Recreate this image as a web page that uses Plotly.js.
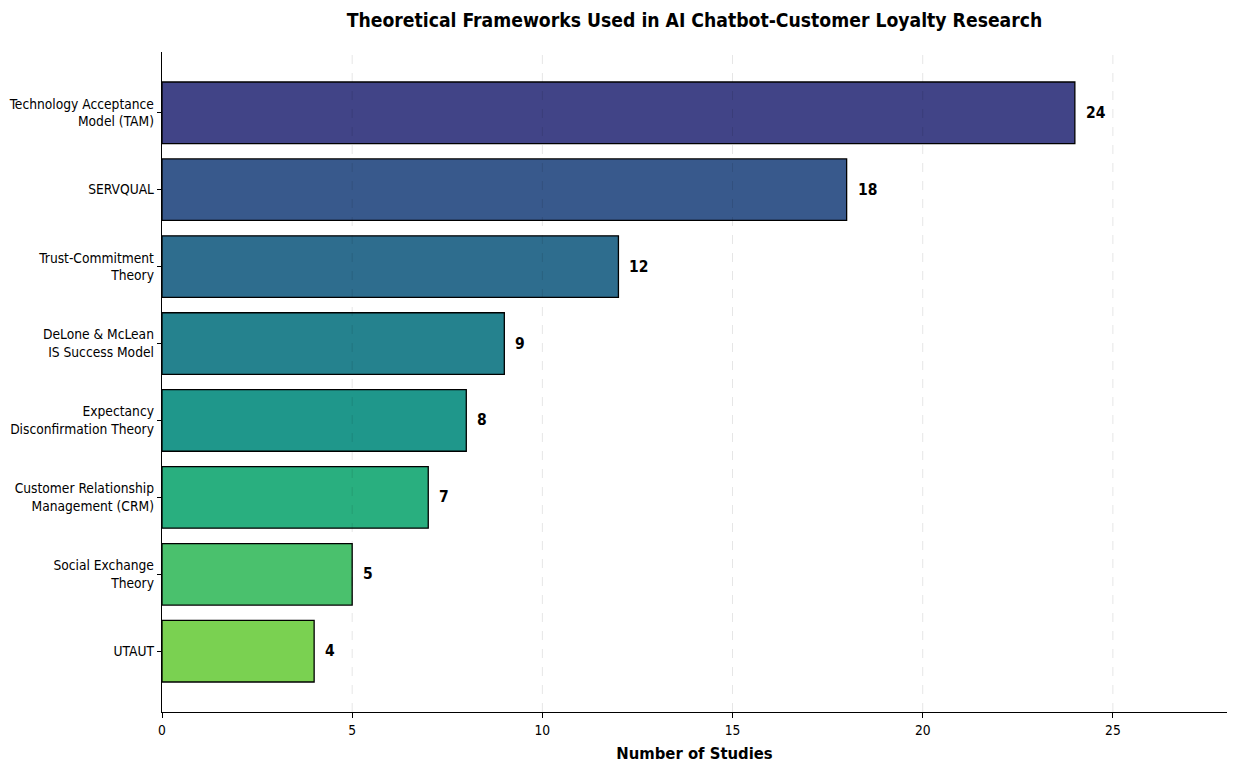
<!DOCTYPE html>
<html>
<head>
<meta charset="utf-8">
<script src="https://cdn.plot.ly/plotly-3.0.1.min.js"></script>
<style>
  html, body { margin: 0; padding: 0; background: #fff; }
  #chart { width: 1236px; height: 775px; }
</style>
</head>
<body>
<div id="chart"></div>
<script>
(function () {
  "use strict";

  // Frameworks, top to bottom, and how many studies used each.
  const frameworks = [
    "Technology Acceptance<br>Model (TAM)",
    "SERVQUAL",
    "Trust-Commitment<br>Theory",
    "DeLone &amp; McLean<br>IS Success Model",
    "Expectancy<br>Disconfirmation Theory",
    "Customer Relationship<br>Management (CRM)",
    "Social Exchange<br>Theory",
    "UTAUT",
  ];
  const studies = [24, 18, 12, 9, 8, 7, 5, 4];

  // Viridis samples from 0.2 to 0.8, one per bar.
  const barColors = [
    "#414487", "#38598c", "#2e6d8e", "#25828e",
    "#1f978b", "#29af7f", "#4ac16d", "#7ad151",
  ];

  const xTicks = [0, 5, 10, 15, 20, 25];
  const gridTicks = [5, 10, 15, 20, 25];

  const FONT = "'DejaVu Sans Condensed', 'DejaVu Sans', sans-serif";
  const STRETCH = "condensed";

  function font(size, bold) {
    const f = { family: FONT, size: size, color: "#000", stretch: STRETCH };
    if (bold) {
      f.weight = "bold";
    }
    return f;
  }

  const trace = {
    type: "bar",
    orientation: "h",
    x: studies,
    y: frameworks,
    width: 0.8,
    marker: { color: barColors, line: { color: "#000", width: 1.3 } },
    hoverinfo: "x+y",
  };

  // Value labels just past the end of each bar.
  const labels = studies.map(function (n, i) {
    return {
      x: n,
      y: frameworks[i],
      xref: "x",
      yref: "y",
      text: String(n),
      showarrow: false,
      xanchor: "left",
      yanchor: "middle",
      xshift: 9,
      font: font(15.5, true),
    };
  });

  // matplotlib draws its grid over the bars, so use shapes on top.
  const grid = gridTicks.map(function (t) {
    return {
      type: "line",
      xref: "x",
      yref: "paper",
      x0: t, x1: t, y0: 0, y1: 1,
      layer: "above",
      line: { color: "rgba(0,0,0,0.10)", width: 1, dash: "dash" },
    };
  });

  const layout = {
    width: 1236,
    height: 775,
    paper_bgcolor: "#fff",
    plot_bgcolor: "#fff",
    margin: { l: 162, r: 9, t: 52, b: 63 },
    font: font(13.7, false),
    showlegend: false,
    title: {
      text: "Theoretical Frameworks Used in AI Chatbot-Customer Loyalty Research",
      font: font(19.2, true),
      x: 0.5,
      xref: "paper",
      xanchor: "center",
      y: 0.974,
      yanchor: "middle",
    },
    xaxis: {
      range: [0, 28],
      tickvals: xTicks,
      ticktext: xTicks.map(String),
      showgrid: false,
      zeroline: false,
      showline: true,
      linecolor: "#000",
      linewidth: 1.3,
      ticks: "outside",
      ticklen: 5,
      tickcolor: "#000",
      tickfont: font(13.7, false),
      title: {
        text: "Number of Studies",
        font: font(16.5, true),
        standoff: 10,
      },
    },
    yaxis: {
      type: "category",
      range: [7.79, -0.79],
      showgrid: false,
      zeroline: false,
      showline: true,
      linecolor: "#000",
      linewidth: 1.3,
      ticks: "outside",
      ticklen: 4,
      tickcolor: "#000",
      tickfont: font(13.7, false),
    },
    annotations: labels,
    shapes: grid,
  };

  Plotly.newPlot("chart", [trace], layout, { displayModeBar: false, staticPlot: true });
})();
</script>
</body>
</html>
